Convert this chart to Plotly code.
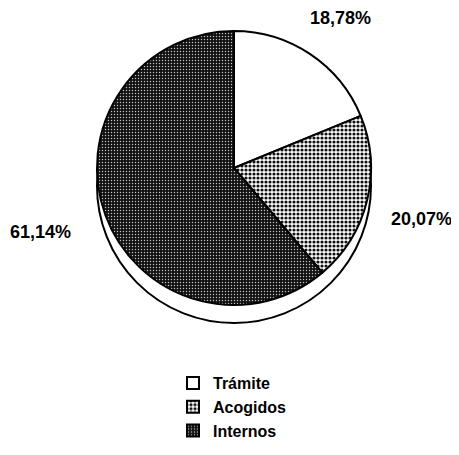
import plotly.graph_objects as go

# data
categorias = ["Trámite", "Acogidos", "Internos"]
porcentajes = [18.78, 20.07, 61.14]
etiquetas = [f"{v:.2f}".replace(".", ",") + "%" for v in porcentajes]

# the page adds an 8px body margin, so the figure is a bit smaller
W, H = 451, 447

# pie disc in pixels (figure coords)
cx, cy, r = 226, 160, 137
dom_x = [(cx - r) / W, (cx + r) / W]
dom_y = [1 - (cy + r) / H, 1 - (cy - r) / H]
off = 18 / H  # 3D rim offset

fig = go.Figure()

# fake 3D rim behind the pie
fig.add_trace(go.Pie(
    values=[1],
    labels=["rim"],
    domain=dict(x=dom_x, y=[dom_y[0] - off, dom_y[1] - off]),
    marker=dict(colors=["white"], line=dict(color="black", width=2)),
    textinfo="none",
    hoverinfo="skip",
    showlegend=False,
    sort=False,
))

fig.add_trace(go.Pie(
    labels=categorias,
    values=porcentajes,
    sort=False,
    direction="clockwise",
    rotation=0,
    domain=dict(x=dom_x, y=dom_y),
    textinfo="none",
    marker=dict(
        colors=["white", "white", "black"],
        line=dict(color="black", width=2),
        pattern=dict(
            shape=["", ".", "."],
            bgcolor=["white", "white", "#111111"],
            fgcolor=["black", "#111111", "#c0c0c0"],
            size=[4, 4, 3],
            solidity=[0.3, 0.5, 0.18],
            fillmode="replace",
        ),
    ),
    showlegend=True,
))

# percentage labels
pos = [(332, 10), (413, 211), (32, 224)]
for (px, py), t in zip(pos, etiquetas):
    fig.add_annotation(
        x=px / W, y=1 - py / H, xref="paper", yref="paper",
        xanchor="center", yanchor="middle",
        text=t, showarrow=False,
        font=dict(family="Liberation Sans, Arial", size=18, color="black", weight="bold"),
    )

fig.update_layout(
    width=W, height=H,
    margin=dict(l=0, r=0, t=0, b=0),
    paper_bgcolor="white",
    plot_bgcolor="white",
    legend=dict(
        x=165 / W, y=1 - 358 / H, xanchor="left", yanchor="top",
        font=dict(family="Liberation Sans, Arial", size=16, color="black", weight="bold"),
        traceorder="normal",
        itemwidth=30,
        tracegroupgap=0,
    ),
)

fig.write_html("out.html")
